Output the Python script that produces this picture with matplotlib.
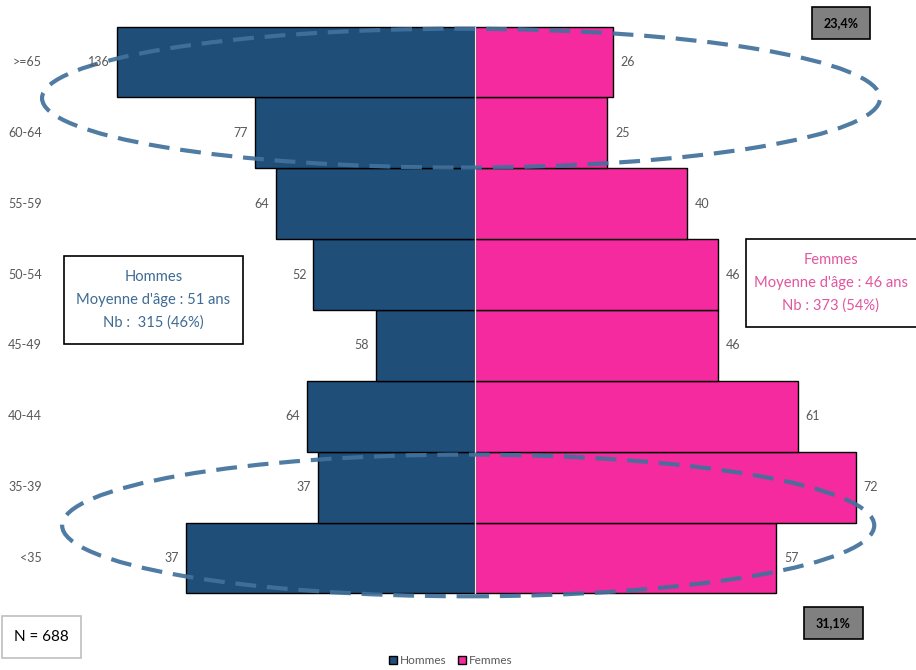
import matplotlib
matplotlib.use('Agg')
import matplotlib.pyplot as plt
from matplotlib.patches import Ellipse, Patch, Rectangle

plt.rcParams['font.family'] = ['Lato', 'DejaVu Sans']

age_groups = ['<35', '35-39', '40-44', '45-49', '50-54', '55-59', '60-64', '>=65']
hommes_labels = [37, 37, 64, 58, 52, 64, 77, 136]
hommes_bars = [54.7, 29.7, 31.8, 18.7, 30.6, 37.7, 41.7, 67.8]
femmes = [57, 72, 61, 46, 46, 40, 25, 26]

c_h = '#1F4E79'
c_f = '#F42A9E'
c_ell = '#41719C'
grey = '#595959'

W, H = 916, 670
fig = plt.figure(figsize=(W / 100, H / 100), dpi=100)
ax = fig.add_axes([0, 0, 1, 1])
ax.set_xlim(-89.85, 83.4)
ax.set_ylim(-1.58, 7.875)
ax.axis('off')

y = range(len(age_groups))
ax.barh(y, [-v for v in hommes_bars], height=1.0, color=c_h,
        edgecolor='black', linewidth=1.0, label='Hommes', zorder=2)
ax.barh(y, femmes, height=1.0, color=c_f,
        edgecolor='black', linewidth=1.0, label='Femmes', zorder=2)
ax.plot([0, 0], [-0.5, 7.5], color='#e8e8e8', lw=1.0, zorder=3)

for i, (hb, hl, f) in enumerate(zip(hommes_bars, hommes_labels, femmes)):
    ax.text(-hb - 1.3, i, str(hl), ha='right', va='center', fontsize=9,
            color=grey, zorder=5)
    ax.text(f + 1.5, i, str(f), ha='left', va='center', fontsize=9,
            color=grey, zorder=5)
    ax.text(-81.9, i, age_groups[i], ha='right', va='center', fontsize=9,
            color=grey)

# dashed ellipses around the extreme age groups
for cx, cy, w, h in [(-2.65, 6.49, 158.5, 1.96), (-1.3, 0.46, 153.6, 2.0)]:
    ax.add_patch(Ellipse((cx, cy), w, h, fill=False, edgecolor=c_ell,
                         linewidth=3.0, linestyle=(0, (5, 2.6)),
                         alpha=0.92, zorder=4))


def box(x0, y0, x1, y1, fc='white', ec='black'):
    # pixel box, measured from the top-left corner
    fig.patches.append(Rectangle((x0 / W, 1 - y1 / H), (x1 - x0) / W, (y1 - y0) / H,
                                 transform=fig.transFigure, fc=fc, ec=ec, lw=1.2,
                                 zorder=6))
    return (x0 + x1) / 2 / W, 1 - (y0 + y1) / 2 / H


tx, ty = box(64, 256, 243, 344)
fig.text(tx, ty, "Hommes\nMoyenne d'âge : 51 ans\nNb :  315 (46%)",
         ha='center', va='center', fontsize=10.6, color='#3E6A93',
         linespacing=1.75, zorder=7)
tx, ty = box(746, 239, 918, 327)
fig.text(831 / W, ty, "Femmes\nMoyenne d'âge : 46 ans\nNb : 373 (54%)",
         ha='center', va='center', fontsize=10.6, color='#E2559F',
         linespacing=1.75, zorder=7)

tx, ty = box(812, 7, 870, 39, fc='#808080')
fig.text(tx, ty, '23,4%', ha='center', va='center', fontsize=9,
         fontweight='bold', color='black', zorder=7)
tx, ty = box(804, 607, 863, 639, fc='#808080')
fig.text(tx, ty, '31,1%', ha='center', va='center', fontsize=9,
         fontweight='bold', color='black', zorder=7)

tx, ty = box(2, 616, 81, 658, ec='#bfbfbf')
fig.text(tx, ty, 'N = 688', ha='center', va='center', fontsize=11,
         color='black', zorder=7)

handles = [Patch(fc=c_h, ec='black', lw=1.0), Patch(fc=c_f, ec='black', lw=1.0)]
fig.legend(handles, ['Hommes', 'Femmes'], loc='lower center',
           bbox_to_anchor=(0.492, -0.007), ncol=2, frameon=False, fontsize=8.5,
           handlelength=0.7, handleheight=0.7, handletextpad=0.2,
           columnspacing=1.0, borderpad=0.2, labelcolor=grey)

fig.savefig('out.png', dpi=100)
